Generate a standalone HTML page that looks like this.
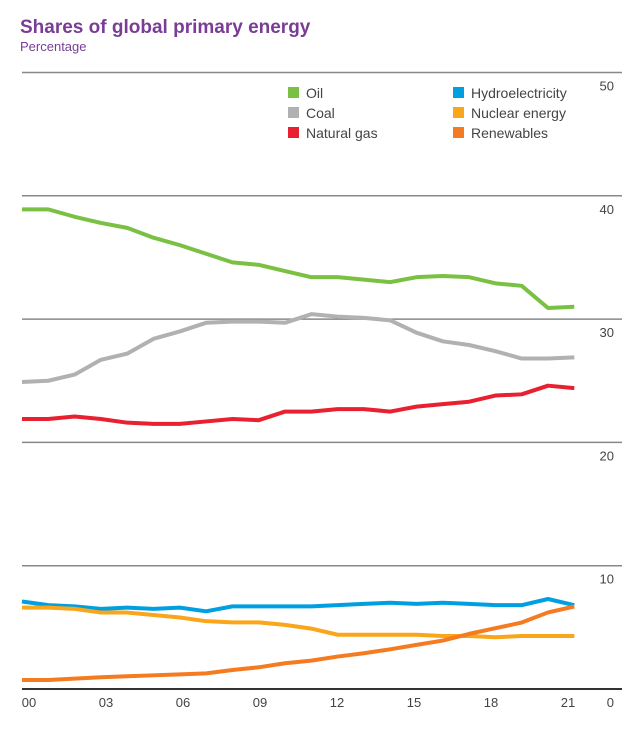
<!DOCTYPE html>
<html><head><meta charset="utf-8"><style>
body{margin:0;background:#fff;font-family:"Liberation Sans",Arial,sans-serif}
svg text{font-family:"Liberation Sans",Arial,sans-serif}
</style></head><body>
<svg id="c" width="643" height="725">
<text x="20" y="33" font-size="19" font-weight="bold" fill="#7a3d96">Shares of global primary energy</text>
<text x="20" y="51" font-size="13" fill="#7a3d96">Percentage</text>
<g id="grid"></g><g id="lines"></g><g id="legend"></g>
</svg>
<script>
const years=[2000,2001,2002,2003,2004,2005,2006,2007,2008,2009,2010,2011,2012,2013,2014,2015,2016,2017,2018,2019,2020,2021];
const oil=[38.9,38.9,38.3,37.8,37.4,36.6,36.0,35.3,34.6,34.4,33.9,33.4,33.4,33.2,33.0,33.4,33.5,33.4,32.9,32.7,30.9,31.0];
const coal=[24.9,25.0,25.5,26.7,27.2,28.4,29.0,29.7,29.8,29.8,29.7,30.4,30.2,30.1,29.9,28.9,28.2,27.9,27.4,26.8,26.8,26.9];
const gas=[21.9,21.9,22.1,21.9,21.6,21.5,21.5,21.7,21.9,21.8,22.5,22.5,22.7,22.7,22.5,22.9,23.1,23.3,23.8,23.9,24.6,24.4];
const hydro=[7.1,6.8,6.7,6.5,6.6,6.5,6.6,6.3,6.7,6.7,6.7,6.7,6.8,6.9,7.0,6.9,7.0,6.9,6.8,6.8,7.3,6.8];
const nuclear=[6.6,6.6,6.5,6.2,6.2,6.0,5.8,5.5,5.4,5.4,5.2,4.9,4.4,4.4,4.4,4.4,4.3,4.3,4.2,4.3,4.3,4.3];
const renew=[0.73,0.73,0.84,0.95,1.03,1.11,1.19,1.27,1.54,1.76,2.09,2.30,2.63,2.90,3.22,3.58,3.93,4.47,4.93,5.39,6.21,6.69];
const yTicks=[0,10,20,30,40,50];
const xTicks=["00","03","06","09","12","15","18","21"];
const NS="http://www.w3.org/2000/svg";
const x=y=>22+(y-2000)*26.3;
const yv=v=>689-v*12.33;
function mk(t,a,p){const e=document.createElementNS(NS,t);for(const k in a)e.setAttribute(k,a[k]);p.appendChild(e);return e;}
const g=document.getElementById('grid');
yTicks.forEach(v=>{
 const l=mk('line',{x1:22,x2:622,y1:yv(v),y2:yv(v),stroke:v===0?'#333':'#888','stroke-width':v===0?2:1.5},g);
 
 
 const t=mk('text',{x:614,y:yv(v)+18,'font-size':13,fill:'#444','text-anchor':'end'},g);
 t.textContent=v;
 
 
});
xTicks.forEach((s,i)=>{
 const t=mk('text',{x:29+i*77,y:707,'font-size':13,fill:'#444','text-anchor':'middle'},g);
 t.textContent=s;
 
 
});
const series=[["Oil",oil,"#7ac143"],["Coal",coal,"#b1b1b4"],["Natural gas",gas,"#e8202f"],["Hydroelectricity",hydro,"#00a0e0"],["Nuclear energy",nuclear,"#f9a61a"],["Renewables",renew,"#f47b20"]];
const L=document.getElementById('lines');
series.forEach(([n,d,c])=>{
 const p=mk('polyline',{points:d.map((v,i)=>x(years[i])+','+yv(v)).join(' '),fill:'none',stroke:c,'stroke-width':4,'stroke-linejoin':'round'},L);
 
 
});
const LG=document.getElementById('legend');
series.forEach(([n,d,c],i)=>{
 const col=i<3?0:1,row=i%3;
 const lx=col?453:288,ly=87+row*20;
 const r=mk('rect',{x:lx,y:ly,width:11,height:11,fill:c},LG);
 
 
 const t=mk('text',{x:lx+18,y:ly+11,'font-size':14,fill:'#444'},LG);
 t.textContent=n;
 
 
});
</script>
</body></html>
